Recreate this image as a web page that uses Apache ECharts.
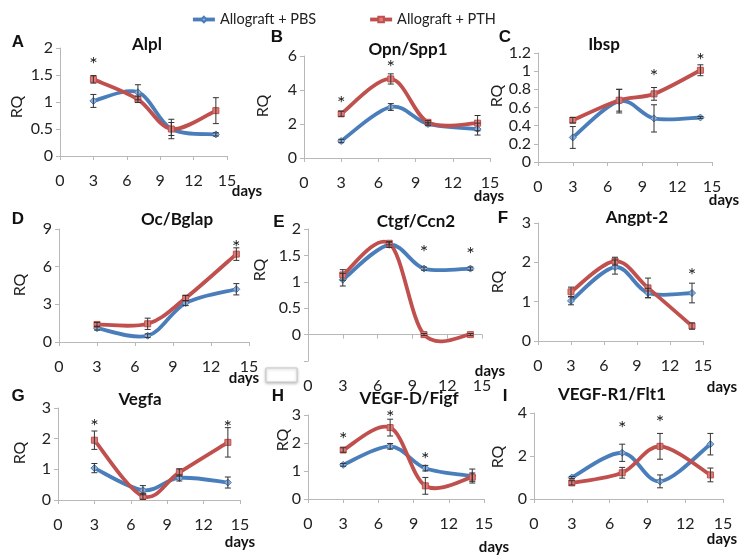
<!DOCTYPE html>
<html><head><meta charset="utf-8">
<script src="https://cdn.jsdelivr.net/npm/echarts@6/dist/echarts.min.js"></script>
<style>html,body{margin:0;padding:0;background:#fff}#c{width:749px;height:558px}</style>
</head><body><div id="c"></div>
<script>
const days = [3, 7, 10, 14];
const seriesNames = ['Allograft + PBS', 'Allograft + PTH'];

// A Alpl
const alplPBS = [1.02, 1.18, 0.50, 0.40];
const alplPBSErr = [0.12, 0.14, 0.12, 0.03];
const alplPTH = [1.42, 1.05, 0.50, 0.84];
const alplPTHErr = [0.07, 0.06, 0.18, 0.24];
const alplStars = [[3, 1.78]];
// B Opn/Spp1
const opnPBS = [1.0, 3.0, 2.0, 1.7];
const opnPBSErr = [0.1, 0.2, 0.1, 0.35];
const opnPTH = [2.6, 4.65, 2.1, 2.05];
const opnPTHErr = [0.15, 0.3, 0.1, 0.45];
const opnStars = [[3, 3.47], [7, 5.6]];
// C Ibsp
const ibspPBS = [0.27, 0.67, 0.48, 0.49];
const ibspPBSErr = [0.12, 0.13, 0.15, 0.01];
const ibspPTH = [0.46, 0.68, 0.75, 1.01];
const ibspPTHErr = [0.03, 0.12, 0.07, 0.06];
const ibspStars = [[10, 1.0], [14, 1.17]];
// D Oc/Bglap
const ocPBS = [1.1, 0.5, 3.1, 4.2];
const ocPBSErr = [0.15, 0.15, 0.2, 0.45];
const ocPTH = [1.4, 1.45, 3.5, 7.0];
const ocPTHErr = [0.15, 0.45, 0.2, 0.5];
const ocStars = [[14, 7.96]];
// E Ctgf/Ccn2
const ctgfPBS = [1.04, 1.7, 1.25, 1.25];
const ctgfPBSErr = [0.12, 0.05, 0.03, 0.03];
const ctgfPTH = [1.13, 1.73, 0.0, 0.0];
const ctgfPTHErr = [0.1, 0.03, 0.02, 0.02];
const ctgfStars = [[10, 1.64], [14, 1.62]];
// F Angpt-2
const angPBS = [1.02, 1.88, 1.22, 1.22];
const angPBSErr = [0.1, 0.18, 0.12, 0.25];
const angPTH = [1.25, 2.03, 1.35, 0.38];
const angPTHErr = [0.12, 0.1, 0.25, 0.08];
const angStars = [[14, 1.8]];
// G Vegfa
const vegfaPBS = [1.04, 0.32, 0.72, 0.57];
const vegfaPBSErr = [0.15, 0.15, 0.1, 0.18];
const vegfaPTH = [1.95, 0.12, 0.9, 1.88];
const vegfaPTHErr = [0.3, 0.1, 0.12, 0.48];
const vegfaStars = [[3, 2.57], [14, 2.52]];
// H VEGF-D/Figf
const figfPBS = [1.22, 1.88, 1.1, 0.82];
const figfPBSErr = [0.05, 0.1, 0.1, 0.25];
const figfPTH = [1.75, 2.55, 0.47, 0.78];
const figfPTHErr = [0.08, 0.3, 0.3, 0.15];
const figfStars = [[3, 2.29], [7, 3.07], [10, 1.57]];
// I VEGF-R1/Flt1
const flt1PBS = [1.0, 2.15, 0.82, 2.55];
const flt1PBSErr = [0.05, 0.4, 0.3, 0.5];
const flt1PTH = [0.75, 1.22, 2.45, 1.12];
const flt1PTHErr = [0.1, 0.25, 0.6, 0.32];
const flt1Stars = [[7, 3.53], [10, 3.8]];

const titles = ['Alpl', 'Opn/Spp1', 'Ibsp', 'Oc/Bglap', 'Ctgf/Ccn2', 'Angpt-2', 'Vegfa', 'VEGF-D/Figf', 'VEGF-R1/Flt1'];
const letters = ['A', 'B', 'C', 'D', 'E', 'F', 'G', 'H', 'I'];
const yMins = [0, 0, 0, 0, -0.5, 0, 0, 0, 0];
const yMaxs = [2, 6, 1.2, 9, 2, 3, 3, 3, 4];
const yIntervals = [0.5, 2, 0.2, 3, 0.5, 1, 1, 1, 2];

const panelData = [
  [alplPBS, alplPBSErr, alplPTH, alplPTHErr, alplStars],
  [opnPBS, opnPBSErr, opnPTH, opnPTHErr, opnStars],
  [ibspPBS, ibspPBSErr, ibspPTH, ibspPTHErr, ibspStars],
  [ocPBS, ocPBSErr, ocPTH, ocPTHErr, ocStars],
  [ctgfPBS, ctgfPBSErr, ctgfPTH, ctgfPTHErr, ctgfStars],
  [angPBS, angPBSErr, angPTH, angPTHErr, angStars],
  [vegfaPBS, vegfaPBSErr, vegfaPTH, vegfaPTHErr, vegfaStars],
  [figfPBS, figfPBSErr, figfPTH, figfPTHErr, figfStars],
  [flt1PBS, flt1PBSErr, flt1PTH, flt1PTHErr, flt1Stars]
];

// layout
const gridBoxes = [
  [60, 48, 167, 108], [304, 56, 186, 102], [538, 53, 174, 109],
  [59, 229, 190, 113], [308, 229, 174, 132], [538, 223, 165, 118],
  [58, 408, 182, 92], [308, 415, 176, 84], [534, 413, 189, 86]
];
const titlePos = [[147, 45], [408, 50], [604, 45], [177, 220], [416, 222], [637, 218], [140, 400], [409, 399], [612, 395]];
const letterPos = [[18, 42], [277, 37], [505, 37], [18, 219], [279, 222], [503, 218], [18, 396], [278, 396], [505, 396]];
const rqPos = [[17, 107], [263, 106], [497, 96], [20, 285], [260, 270], [498, 282], [20, 453], [283, 440], [498, 457]];
const daysPos = [[247, 191], [489, 196], [724, 200], [244, 378], [490, 371], [722, 387], [240, 542], [494, 547], [722, 539]];

const BLUE = '#4a7ebb', RED = '#c0504d';
const BLUE_FILL = '#8cb0dd', RED_FILL = '#df7c79';
const FONT = 'Lato, "Open Sans", sans-serif';

const grid = [], xAxis = [], yAxis = [], series = [], graphic = [];

function errItem(params, api) {
  const x = api.value(0), y = api.value(1), e = api.value(2);
  const t = api.coord([x, y + e]), b = api.coord([x, y - e]);
  const w = 3, st = { stroke: '#333', lineWidth: 1 };
  return { type: 'group', children: [
    { type: 'line', shape: { x1: t[0], y1: t[1], x2: b[0], y2: b[1] }, style: st },
    { type: 'line', shape: { x1: t[0] - w, y1: t[1], x2: t[0] + w, y2: t[1] }, style: st },
    { type: 'line', shape: { x1: b[0] - w, y1: b[1], x2: b[0] + w, y2: b[1] }, style: st }
  ]};
}
function starItem(params, api) {
  const p = api.coord([api.value(0), api.value(1)]);
  return { type: 'text', x: p[0], y: p[1] + 5, style: { text: '*', font: '20px ' + FONT, fill: '#222', textAlign: 'center', textVerticalAlign: 'middle', align: 'center', verticalAlign: 'middle' } };
}
// Excel-like (Catmull-Rom) smoothed curve through the data points, positioned by the axes
function curveRenderer(vals, color) {
  return function (params, api) {
    if (params.dataIndex !== 0) return null;
    const pts = days.map((d, k) => api.coord([d, vals[k]]));
    const n = pts.length;
    let d = 'M' + pts[0][0] + ' ' + pts[0][1];
    for (let k = 0; k < n - 1; k++) {
      const p0 = pts[Math.max(k - 1, 0)], p1 = pts[k], p2 = pts[k + 1], p3 = pts[Math.min(k + 2, n - 1)];
      const c1x = p1[0] + (p2[0] - p0[0]) / 6, c1y = p1[1] + (p2[1] - p0[1]) / 6;
      const c2x = p2[0] - (p3[0] - p1[0]) / 6, c2y = p2[1] - (p3[1] - p1[1]) / 6;
      d += ' C' + c1x + ' ' + c1y + ' ' + c2x + ' ' + c2y + ' ' + p2[0] + ' ' + p2[1];
    }
    return { type: 'path', shape: { pathData: d }, style: { stroke: color, lineWidth: 3.8, fill: 'none', lineCap: 'round', lineJoin: 'round' } };
  };
}

panelData.forEach((pd, i) => {
  const [l, t, w, h] = gridBoxes[i];
  grid.push({ left: l, top: t, width: w, height: h, containLabel: false });
  xAxis.push({
    type: 'value', gridIndex: i, min: 0, max: 15, interval: 3,
    axisLine: { show: true, onZero: true, lineStyle: { color: '#b8b8b8', width: 1 } },
    axisTick: { show: true, length: 4, lineStyle: { color: '#b8b8b8' } },
    axisLabel: { margin: 17, fontSize: 16, color: '#222', fontFamily: FONT },
    splitLine: { show: false }
  });
  yAxis.push({
    type: 'value', gridIndex: i, min: yMins[i], max: yMaxs[i], interval: yIntervals[i],
    axisLine: { show: true, lineStyle: { color: '#b8b8b8', width: 1 } },
    axisTick: { show: true, length: 4, lineStyle: { color: '#b8b8b8' } },
    axisLabel: { margin: 7, fontSize: 16, color: '#222', fontFamily: FONT,
      formatter: v => (v < 0 ? '' : String(+v.toFixed(2))) },
    splitLine: { show: false }
  });
  const [pbs, pbsErr, pth, pthErr, stars] = pd;
  series.push({ type: 'custom', xAxisIndex: i, yAxisIndex: i, renderItem: curveRenderer(pbs, BLUE),
    data: days.map((d, k) => [d, pbs[k]]), encode: { x: 0, y: 1 }, z: 2, silent: true, clip: false });
  series.push({ type: 'custom', xAxisIndex: i, yAxisIndex: i, renderItem: curveRenderer(pth, RED),
    data: days.map((d, k) => [d, pth[k]]), encode: { x: 0, y: 1 }, z: 3, silent: true, clip: false });
  series.push({
    name: seriesNames[0], type: 'line', xAxisIndex: i, yAxisIndex: i,
    data: days.map((d, k) => [d, pbs[k]]), color: BLUE,
    lineStyle: { width: 3.8, color: BLUE, opacity: 0 }, symbol: 'diamond', symbolSize: 7,
    itemStyle: { color: BLUE_FILL, borderColor: BLUE, borderWidth: 1 }, z: 4
  });
  series.push({
    name: seriesNames[1], type: 'line', xAxisIndex: i, yAxisIndex: i,
    data: days.map((d, k) => [d, pth[k]]), color: RED,
    lineStyle: { width: 3.8, color: RED, opacity: 0 }, symbol: 'rect', symbolSize: 6,
    itemStyle: { color: RED_FILL, borderColor: RED, borderWidth: 1 }, z: 5
  });
  series.push({ type: 'custom', xAxisIndex: i, yAxisIndex: i, renderItem: errItem,
    data: days.map((d, k) => [d, pbs[k], pbsErr[k]]), encode: { x: 0, y: 1 }, z: 6, silent: true });
  series.push({ type: 'custom', xAxisIndex: i, yAxisIndex: i, renderItem: errItem,
    data: days.map((d, k) => [d, pth[k], pthErr[k]]), encode: { x: 0, y: 1 }, z: 6, silent: true });
  series.push({ type: 'custom', xAxisIndex: i, yAxisIndex: i, renderItem: starItem,
    data: stars, encode: { x: 0, y: 1 }, z: 7, silent: true, clip: false });

  graphic.push({ type: 'text', x: titlePos[i][0], y: titlePos[i][1],
    style: { text: titles[i], font: 'bold 17px ' + FONT, fill: '#111', textAlign: 'center', textVerticalAlign: 'middle' } });
  graphic.push({ type: 'text', x: letterPos[i][0], y: letterPos[i][1],
    style: { text: letters[i], font: 'bold 17px "Liberation Sans", Arial, sans-serif', fill: '#111', textAlign: 'center', textVerticalAlign: 'middle' } });
  graphic.push({ type: 'text', x: rqPos[i][0], y: rqPos[i][1], rotation: Math.PI / 2,
    style: { text: 'RQ', font: '16px ' + FONT, fill: '#222', textAlign: 'center', textVerticalAlign: 'middle' } });
  graphic.push({ type: 'text', x: daysPos[i][0], y: daysPos[i][1],
    style: { text: 'days', font: 'bold 15px ' + FONT, fill: '#111', textAlign: 'center', textVerticalAlign: 'middle' } });
});

graphic.push({ type: 'rect', shape: { x: 266, y: 368, width: 31, height: 14 },
  style: { fill: '#fff', stroke: '#c8c8c8', lineWidth: 1, shadowBlur: 3, shadowColor: 'rgba(0,0,0,0.25)', shadowOffsetY: 1 } });

const chart = echarts.init(document.getElementById('c'), null, { renderer: 'canvas' });
chart.setOption({
  backgroundColor: '#fff',
  animation: false,
  legend: {
    data: seriesNames, left: 186, top: 7, itemWidth: 22, itemHeight: 7, itemGap: 52,
    lineStyle: { opacity: 1, width: 3.8 },
    textStyle: { fontSize: 14.5, color: '#222', fontFamily: FONT }
  },
  grid, xAxis, yAxis, series, graphic
});
</script></body></html>
